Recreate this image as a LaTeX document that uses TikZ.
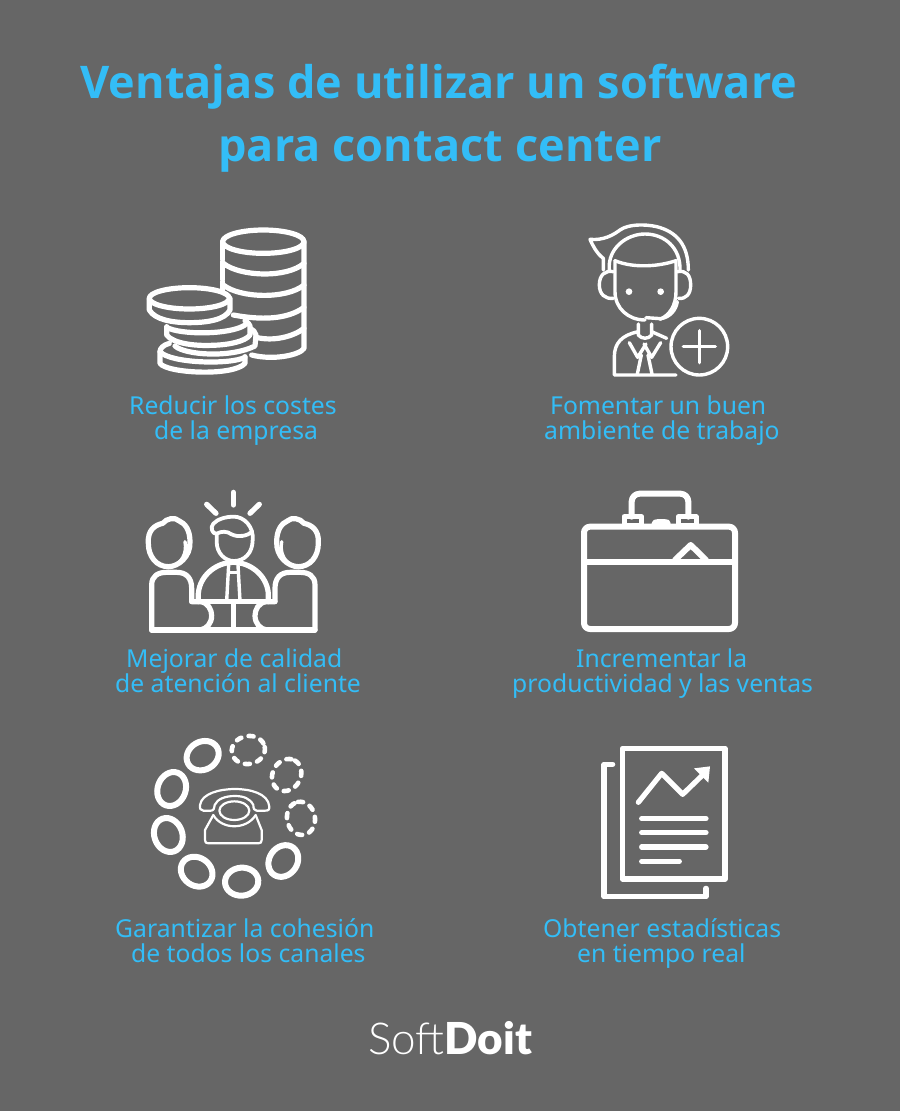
\documentclass[tikz,border=0pt]{standalone}
\usepackage{fontspec}
\setmainfont{Noto Sans}
\newfontfamily\titlef{Open Sans}[LetterSpace=0.25]
\newfontfamily\logolight{Lato Light}
\newfontfamily\logoblack{Lato Black}
\definecolor{bg}{HTML}{666666}
\definecolor{sky}{HTML}{33BDF7}
\tikzset{
  ttl/.style={text=sky,font=\fontsize{45}{63}\selectfont\titlef\bfseries,align=center,inner sep=0pt,anchor=base west},
  lab/.style={text=sky,font=\fontsize{24.7}{25}\selectfont,align=left,inner sep=0pt,anchor=north west},
  ico/.style={draw=white,line width=5.2pt,line cap=round,line join=round},
  icm/.style={draw=white,line width=3.4pt,line cap=round,line join=round},
  ict/.style={draw=white,line width=2.2pt,line cap=round,line join=round},
  pix/.style={shift={#1},scale=1/3}
}
\newcommand{\sidefigure}{%
  \draw[ico] (65,435) -- (65,300) .. controls (65,272) and (85,262) .. (110,262) -- (140,262) .. controls (170,262) and (185,280) .. (185,310) -- (185,350) -- (210,350) .. controls (235,352) and (245,375) .. (245,392) .. controls (245,415) and (230,432) .. (210,435);
  \draw[ico] (55,175) .. controls (52,135) and (75,120) .. (98,115) .. controls (110,100) and (135,95) .. (148,108) .. controls (165,115) and (180,135) .. (180,170) .. controls (182,215) and (145,245) .. (115,245) .. controls (80,245) and (55,215) .. (55,175);
  \draw[icm] (165,170) .. controls (172,205) and (155,235) .. (125,245);
}
\begin{document}
\begin{tikzpicture}[x=1pt,y=-1pt]
\useasboundingbox (0,0) rectangle (900,1111);
\fill[bg] (0,0) rectangle (900,1111);
\node[ttl] (t1) at (80,98) {Ventajas de utilizar un software};
\node[ttl] (t2) at (218,161) {para contact center};
% coins
\begin{scope}[pix={(130,220)}]
 \draw[ico] (400,65) ellipse (122 and 35);
 \draw[ico] (522,65) -- (522,385) .. controls (510,405) and (430,422) .. (365,405);
 \draw[ico,dash pattern=on 18pt off 2pt] (278,65) -- (278,215);
 \draw[ico] (280,130) .. controls (330,170) and (470,175) .. (522,130);
 \draw[ico] (280,195) .. controls (330,235) and (470,238) .. (522,195);
 \draw[ico] (310,285) .. controls (390,300) and (470,300) .. (522,262);
 \draw[ico] (378,352) .. controls (430,365) and (490,350) .. (522,325);
 \draw[ico] (178,235) ellipse (120 and 32);
 \draw[ico] (58,235) -- (58,270) .. controls (75,300) and (130,308) .. (178,308) .. controls (230,308) and (285,300) .. (300,270) -- (300,235);
 \draw[ico] (110,320) -- (110,345) .. controls (130,372) and (200,378) .. (245,376) .. controls (295,375) and (345,365) .. (360,345) -- (360,318) .. controls (355,308) and (350,305) .. (345,302);
 \draw[ico] (110,322) .. controls (150,345) and (300,345) .. (345,315);
 \draw[ico] (135,378) .. controls (165,405) and (300,415) .. (375,378) -- (378,345) .. controls (375,335) and (370,330) .. (362,326);
 \draw[ico] (118,370) .. controls (100,375) and (90,385) .. (90,395) -- (90,430) .. controls (110,460) and (310,470) .. (345,430) -- (345,410);
 \draw[ico] (90,395) .. controls (120,430) and (300,435) .. (345,412);
\end{scope}
% agent
\begin{scope}[pix={(570,220)}]
 \draw[icm] (100,150) -- (100,115) .. controls (80,100) and (70,80) .. (60,58) .. controls (100,62) and (130,45) .. (150,30) .. controls (175,12) and (225,12) .. (260,20) .. controls (320,35) and (355,75) .. (355,150);
 \draw[icm] (118,150) .. controls (112,85) and (170,42) .. (225,42) .. controls (285,42) and (332,85) .. (330,150);
 \draw[icm] (135,122) .. controls (190,145) and (265,140) .. (318,122) -- (318,215) .. controls (318,255) and (300,285) .. (270,298);
 \draw[icm] (135,122) -- (135,215) .. controls (135,265) and (175,300) .. (225,300);
 \draw[icm] (228,293) -- (272,296) .. controls (300,292) and (318,270) .. (322,245);
 \draw[icm] (130,155) .. controls (105,150) and (88,165) .. (88,195) .. controls (88,222) and (105,238) .. (130,235);
 \draw[icm] (322,155) .. controls (348,150) and (362,165) .. (362,195) .. controls (362,222) and (348,238) .. (325,235);
 \fill[white] (177,215) circle (10) (272,215) circle (10);
 \draw[icm] (205,312) -- (205,345) .. controls (215,358) and (235,358) .. (245,345) -- (245,312);
 \draw[icm] (205,335) .. controls (155,345) and (133,370) .. (133,410) -- (133,465) -- (318,465);
 \draw[icm] (245,335) -- (290,355);
 \draw[icm] (178,368) -- (203,412) -- (228,372);
 \draw[icm] (272,368) -- (245,412) -- (222,372);
 \draw[icm] (214,405) -- (202,462);
 \draw[icm] (234,405) -- (246,462);
 \draw[icm] (388,380) circle (85);
 \draw[icm] (340,380) -- (436,380);
 \draw[icm] (388,332) -- (388,428);
\end{scope}
% team
\begin{scope}[pix={(130,485)}]
 \draw[ico] (310,22) -- (310,60);
 \draw[ico] (230,58) -- (258,85);
 \draw[ico] (388,58) -- (360,85);
 \sidefigure
 \draw[ico] (65,435) -- (555,435);
 \draw[ico] (185,350) -- (435,350);
 \draw[ico] (310,350) -- (310,435);
 \draw[ico] (205,350) -- (205,325) .. controls (210,270) and (260,232) .. (310,232) .. controls (360,232) and (410,270) .. (415,325) -- (415,350);
 \draw[icm] (296,240) -- (290,348);
 \draw[icm] (324,240) -- (330,348);
 \draw[icm] (300,262) -- (320,262);
 \draw[icm,line width=3.8pt] (260,146) -- (260,170) .. controls (260,205) and (285,228) .. (312,228) .. controls (342,228) and (368,205) .. (368,165) .. controls (372,125) and (342,95) .. (312,95) .. controls (285,95) and (262,103) .. (250,116) .. controls (240,126) and (246,148) .. (260,146) .. controls (275,138) and (290,138) .. (305,148) .. controls (325,158) and (352,153) .. (367,140);
\end{scope}
\begin{scope}[shift={(130+620/3,485)},xscale=-1/3,yscale=1/3]
 \sidefigure
\end{scope}
% briefcase
\begin{scope}[pix={(570,485)},ico/.append style={line width=6pt}]
 \draw[ico,rounded corners=6pt] (42,125) rectangle (495,432);
 \draw[ico] (42,230) -- (495,230);
 \draw[ico] (315,225) -- (362,180) -- (408,225);
 \draw[ico,rounded corners=8pt] (185,95) -- (185,26) -- (355,26) -- (355,95);
 \draw[ico,line width=5pt] (162,95) rectangle (215,122);
 \draw[ico,line width=5pt] (325,95) rectangle (378,122);
 \fill[white,rounded corners=3pt] (245,122) -- (245,108) -- (258,102) -- (290,102) -- (302,108) -- (302,122) -- cycle;
\end{scope}
% phone
\begin{scope}[pix={(140,725)}]
 \foreach \c/\r/\a/\b in {{(188,92)}/30/50/42,{(95,192)}/70/52/42,{(85,330)}/-70/52/42,{(170,440)}/-35/50/42,{(305,470)}/5/50/42,{(430,408)}/55/50/42}
  \draw[ico,line width=6pt] \c ellipse[x radius=\a,y radius=\b,rotate=\r];
 \foreach \c/\r in {{(325,75)}/10,{(440,150)}/60,{(483,280)}/100}
  \draw[icm,line width=4.6pt,dash pattern=on 5pt off 7.5pt] \c ellipse[x radius=50,y radius=42,rotate=\r];
 \draw[ict] (180,240) .. controls (185,205) and (240,192) .. (285,192) .. controls (330,192) and (385,205) .. (388,245) .. controls (388,255) and (385,257) .. (375,257) -- (350,257) .. controls (342,257) and (340,250) .. (340,240) .. controls (330,220) and (310,213) .. (285,213) .. controls (255,213) and (232,222) .. (224,240) .. controls (222,250) and (222,257) .. (212,257) -- (190,257) .. controls (182,257) and (178,250) .. (180,240) -- cycle;
 \draw[ict] (283,257) ellipse (45 and 28);
 \draw[ict] (220,270) .. controls (245,315) and (320,315) .. (347,270);
 \draw[ict] (220,270) -- (195,315) -- (195,345) .. controls (195,352) and (198,355) .. (205,355) -- (355,355) .. controls (362,355) and (365,352) .. (365,345) -- (365,315) -- (347,270);
\end{scope}
% report
\begin{scope}[pix={(590,735)}]
 \draw[ico] (97,40) rectangle (405,432);
 \draw[ico] (68,88) -- (42,88) -- (42,485) -- (348,485) -- (348,460);
 \draw[ico] (145,202) -- (215,115) -- (278,178) -- (340,118);
 \fill[white] (312,100) -- (360,94) -- (355,143) -- cycle;
 \draw[ico] (155,251) -- (348,251);
 \draw[ico] (155,293) -- (348,293);
 \draw[ico] (155,336) -- (348,336);
 \draw[ico] (155,379) -- (268,379);
\end{scope}
% labels
\node[lab] (l1) at (129,396) {Reducir los costes\\\hspace*{25pt}de la empresa};
\node[lab] (l2) at (544,396) {\hspace*{6pt}Fomentar un buen\\ambiente de trabajo};
\node[lab] (l3) at (115,649) {\hspace*{11pt}Mejorar de calidad\\de atención al cliente};
\node[lab] (l4) at (512,649) {\hspace*{64pt}Incrementar la\\productividad y las ventas};
\node[lab] (l5) at (115,918) {Garantizar la cohesión\\\hspace*{16pt}de todos los canales};
\node[lab] (l6) at (543,918) {Obtener estadísticas\\\hspace*{34pt}en tiempo real};
\node[inner sep=0pt,anchor=base west,text=white] (logo) at (368,1054) {\fontsize{44}{44}\selectfont{\logolight Soft}{\logoblack Doit}};
\end{tikzpicture}
\end{document}
